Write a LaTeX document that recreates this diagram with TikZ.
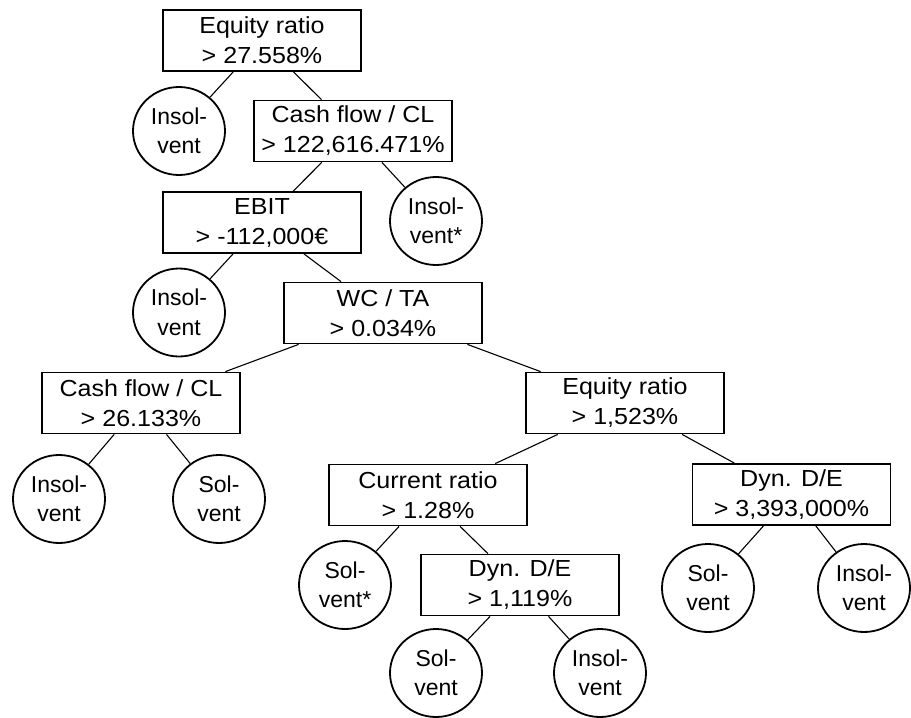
\documentclass[tikz,border=0pt]{standalone}
\usepackage{fontspec}
\setmainfont{Liberation Sans}
\newfontfamily\boxfont[FakeStretch=1.08]{Liberation Sans}
\usetikzlibrary{shapes.geometric}
\begin{document}
\begin{tikzpicture}[x=1pt,y=-1pt,
  split/.style={draw, line width=1.8pt, minimum width=198pt, minimum height=61pt,
    inner sep=0pt, align=center, font=\boxfont\fontsize{23.2}{30}\selectfont},
  leaf/.style={ellipse, draw, line width=1.8pt, minimum width=92pt, minimum height=88pt,
    inner sep=0pt, align=center, font=\fontsize{23}{29.5}\selectfont},
  edge/.style={line width=1.1pt}]
\useasboundingbox (0,0) rectangle (911,718);

% decision nodes
\node[split] (n1) at (262,40.5) {Equity ratio\\> 27.558\%};
\node[split] (n2) at (353,131) {Cash flow / CL\\> 122,616.471\%};
\node[split] (n3) at (262,222.5) {EBIT\\> -112,000€};
\node[split] (n4) at (383,313) {WC / TA\\> 0.034\%};
\node[split] (n5) at (141,403) {Cash flow / CL\\> 26.133\%};
\node[split] (n6) at (625,403) {Equity ratio\\> 1,523\%};
\node[split] (n7) at (428,495) {Current ratio\\> 1.28\%};
\node[split] (n8) at (791.5,494.5) {Dyn. D/E\\> 3,393,000\%};
\node[split] (n9) at (520,585) {Dyn. D/E\\> 1,119\%};

% leaves
\node[leaf] (l1) at (179,131) {Insol-\\vent};
\node[leaf] (l2) at (436,221) {Insol-\\vent*};
\node[leaf] (l3) at (179,312.5) {Insol-\\vent};
\node[leaf] (l4) at (59,499) {Insol-\\vent};
\node[leaf] (l5) at (219,499) {Sol-\\vent};
\node[leaf] (l6) at (345,585) {Sol-\\vent*};
\node[leaf] (l7) at (708,588) {Sol-\\vent};
\node[leaf] (l8) at (864,588) {Insol-\\vent};
\node[leaf] (l9) at (436,673) {Sol-\\vent};
\node[leaf] (l10) at (600,673) {Insol-\\vent};

% branches
\draw[edge] (n1) -- (l1);
\draw[edge] (n1) -- (n2);
\draw[edge] (n2) -- (n3);
\draw[edge] (n2) -- (l2);
\draw[edge] (n3) -- (l3);
\draw[edge] (n3) -- (n4);
\draw[edge] (n4) -- (n5);
\draw[edge] (n4) -- (n6);
\draw[edge] (n5) -- (l4);
\draw[edge] (n5) -- (l5);
\draw[edge] (n6) -- (n7);
\draw[edge] (n6) -- (n8);
\draw[edge] (n7) -- (l6);
\draw[edge] (n7) -- (n9);
\draw[edge] (n8) -- (l7);
\draw[edge] (n8) -- (l8);
\draw[edge] (n9) -- (l9);
\draw[edge] (n9) -- (l10);
\end{tikzpicture}
\end{document}
